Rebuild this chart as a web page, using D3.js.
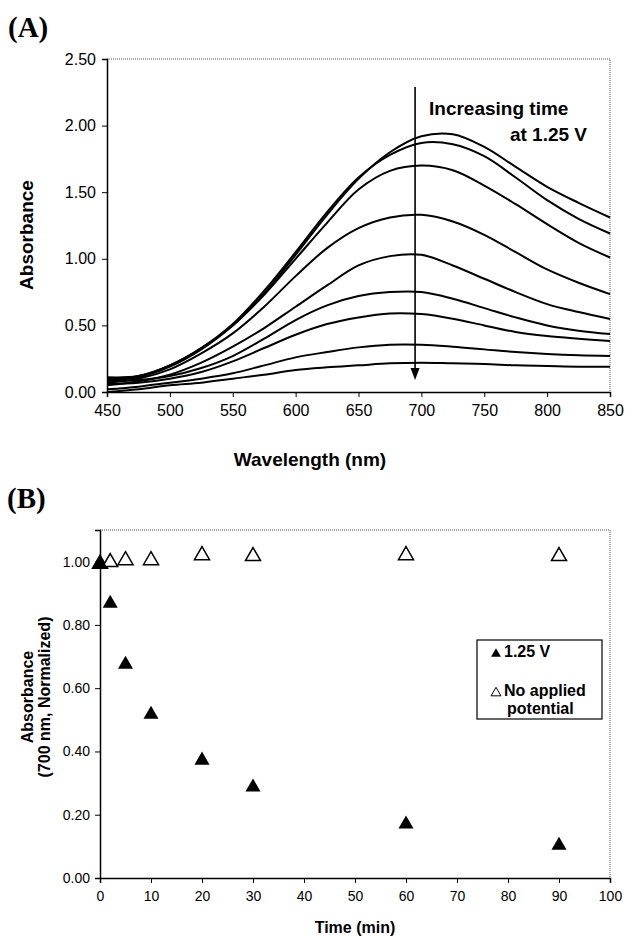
<!DOCTYPE html>
<html>
<head>
<meta charset="utf-8">
<script src="https://cdn.jsdelivr.net/npm/d3@7"></script>
<style>
  body { margin: 0; background: #fff; }
  svg { display: block; font-family: "Liberation Sans", Arial, sans-serif; }
</style>
</head>
<body>
<svg id="chart" width="625" height="937"></svg>
<script>
// panel A: spectra (absorbance vs wavelength), oldest first
var wavelengths = [450, 475, 500, 525, 550, 575, 600, 625, 650, 675, 700, 725, 750, 775, 800, 825, 850];
var spectrum1 = [0.10, 0.12, 0.20, 0.33, 0.50, 0.74, 1.03, 1.33, 1.60, 1.80, 1.92, 1.935, 1.84, 1.69, 1.54, 1.42, 1.31];
var spectrum2 = [0.11, 0.12, 0.20, 0.33, 0.51, 0.76, 1.05, 1.35, 1.61, 1.78, 1.87, 1.86, 1.77, 1.61, 1.44, 1.30, 1.19];
var spectrum3 = [0.09, 0.11, 0.19, 0.32, 0.50, 0.73, 1.00, 1.27, 1.52, 1.66, 1.70, 1.665, 1.55, 1.41, 1.26, 1.12, 1.01];
var spectrum4 = [0.07, 0.10, 0.17, 0.29, 0.44, 0.64, 0.87, 1.08, 1.23, 1.31, 1.33, 1.28, 1.18, 1.05, 0.92, 0.82, 0.735];
var spectrum5 = [0.05, 0.08, 0.13, 0.22, 0.34, 0.48, 0.64, 0.80, 0.95, 1.02, 1.03, 0.95, 0.85, 0.75, 0.66, 0.60, 0.548];
var spectrum6 = [0.08, 0.09, 0.12, 0.18, 0.27, 0.40, 0.54, 0.65, 0.72, 0.75, 0.75, 0.70, 0.63, 0.56, 0.50, 0.46, 0.435];
var spectrum7 = [0.06, 0.07, 0.10, 0.15, 0.23, 0.33, 0.43, 0.51, 0.56, 0.59, 0.585, 0.55, 0.50, 0.45, 0.42, 0.40, 0.383];
var spectrum8 = [0.02, 0.04, 0.07, 0.10, 0.14, 0.20, 0.26, 0.30, 0.335, 0.355, 0.355, 0.34, 0.32, 0.30, 0.285, 0.275, 0.27];
var spectrum9 = [0.00, 0.02, 0.05, 0.07, 0.10, 0.13, 0.165, 0.185, 0.20, 0.215, 0.22, 0.215, 0.21, 0.20, 0.195, 0.19, 0.19];
var spectra = [spectrum1, spectrum2, spectrum3, spectrum4, spectrum5, spectrum6, spectrum7, spectrum8, spectrum9];

// arrow "increasing time" (wavelength, absorbance top -> bottom)
var arrowWl = 695;
var arrowFrom = 2.29;
var arrowTo = 0.09;

// panel B: normalized absorbance at 700 nm vs time
var timeMin = [0, 2, 5, 10, 20, 30, 60, 90];
var abs125V = [1.00, 0.875, 0.682, 0.524, 0.379, 0.294, 0.177, 0.11];
var absNoPotential = [1.00, 1.005, 1.011, 1.011, 1.027, 1.024, 1.027, 1.024];

var svg = d3.select("#chart");

// ---------- panel A ----------
var xA = d3.scaleLinear().domain([450, 850]).range([107, 610]);
var yA = d3.scaleLinear().domain([0, 2.5]).range([392, 59]);

svg.append("text").attr("x", 8).attr("y", 37)
  .style("font-family", "'Liberation Serif', 'Times New Roman', serif")
  .style("font-weight", "bold").style("font-size", "29px").text("(A)");

// dotted plot border (top + right)
svg.append("path")
  .attr("d", "M" + xA(450) + "," + yA(2.5) + "H" + xA(850) + "V" + yA(0))
  .attr("fill", "none").attr("stroke", "#555").attr("stroke-width", 1)
  .attr("stroke-dasharray", "1,1");

var xAxisA = d3.axisBottom(xA).tickValues(d3.range(450, 851, 50)).tickSize(5).tickPadding(8);
var yAxisA = d3.axisLeft(yA).tickValues(d3.range(0, 2.51, 0.5)).tickFormat(d3.format(".2f")).tickSize(5).tickPadding(6);

svg.append("g").attr("transform", "translate(0," + yA(0) + ")").call(xAxisA)
  .call(function (g) {
    g.select(".domain").attr("stroke-width", 1.5);
    g.selectAll("text").style("font-size", "16px").attr("fill", "#000");
  });
svg.append("g").attr("transform", "translate(" + xA(450) + ",0)").call(yAxisA)
  .call(function (g) {
    g.select(".domain").attr("stroke-width", 1.5);
    g.selectAll("text").style("font-size", "16px").attr("fill", "#000");
  });

var lineA = d3.line()
  .x(function (d, i) { return xA(wavelengths[i]); })
  .y(function (d) { return yA(d); })
  .curve(d3.curveCatmullRom.alpha(0.5));

svg.append("g").selectAll("path").data(spectra).enter().append("path")
  .attr("d", lineA)
  .attr("fill", "none").attr("stroke", "#000").attr("stroke-width", 2);

// arrow
svg.append("line")
  .attr("x1", xA(arrowWl)).attr("x2", xA(arrowWl))
  .attr("y1", yA(arrowFrom)).attr("y2", yA(arrowTo) - 10)
  .attr("stroke", "#000").attr("stroke-width", 1.6);
svg.append("path")
  .attr("d", "M" + (xA(arrowWl) - 4.5) + "," + (yA(arrowTo) - 12) +
    "L" + (xA(arrowWl) + 4.5) + "," + (yA(arrowTo) - 12) +
    "L" + xA(arrowWl) + "," + yA(arrowTo) + "Z")
  .attr("fill", "#000");

svg.append("text").attr("x", 429).attr("y", 115)
  .style("font-weight", "bold").style("font-size", "19px").text("Increasing time");
svg.append("text").attr("x", 587).attr("y", 141).attr("text-anchor", "end")
  .style("font-weight", "bold").style("font-size", "19px").text("at 1.25 V");

svg.append("text").attr("x", 310).attr("y", 466).attr("text-anchor", "middle")
  .style("font-weight", "bold").style("font-size", "19px").text("Wavelength (nm)");
svg.append("text").attr("transform", "translate(33,235) rotate(-90)").attr("text-anchor", "middle")
  .style("font-weight", "bold").style("font-size", "19px").text("Absorbance");

// ---------- panel B ----------
var xB = d3.scaleLinear().domain([0, 100]).range([100, 610]);
var yB = d3.scaleLinear().domain([0, 1.1]).range([878, 530]);

svg.append("text").attr("x", 7).attr("y", 508)
  .style("font-family", "'Liberation Serif', 'Times New Roman', serif")
  .style("font-weight", "bold").style("font-size", "29px").text("(B)");

svg.append("path")
  .attr("d", "M" + xB(0) + "," + yB(1.1) + "H" + xB(100) + "V" + yB(0))
  .attr("fill", "none").attr("stroke", "#555").attr("stroke-width", 1)
  .attr("stroke-dasharray", "1,1");

var xAxisB = d3.axisBottom(xB).tickValues(d3.range(0, 101, 10)).tickSize(5).tickPadding(8);
var yAxisB = d3.axisLeft(yB).tickValues([0, 0.2, 0.4, 0.6, 0.8, 1.0]).tickFormat(d3.format(".2f")).tickSize(5).tickPadding(5);

svg.append("g").attr("transform", "translate(0," + yB(0) + ")").call(xAxisB)
  .call(function (g) {
    g.select(".domain").attr("stroke-width", 1.5);
    g.selectAll("text").style("font-size", "14px").attr("fill", "#000");
  });
svg.append("g").attr("transform", "translate(" + xB(0) + ",0)").call(yAxisB)
  .call(function (g) {
    g.select(".domain").attr("stroke-width", 1.5);
    g.selectAll("text").style("font-size", "14px").attr("fill", "#000");
  });

var tri = d3.symbol().type(d3.symbolTriangle).size(98);
var triSmall = d3.symbol().type(d3.symbolTriangle).size(42);

// open triangles first (the one at t=0 hides under the filled marker)
svg.append("g").selectAll("path").data(timeMin).enter().append("path")
  .attr("d", tri)
  .attr("transform", function (d, i) { return "translate(" + xB(d) + "," + (yB(absNoPotential[i]) + 2.2) + ")"; })
  .attr("fill", "#fff").attr("stroke", "#000").attr("stroke-width", 1.5);

svg.append("g").selectAll("path").data(timeMin).enter().append("path")
  .attr("d", tri)
  .attr("transform", function (d, i) { return "translate(" + xB(d) + "," + (yB(abs125V[i]) + 2.2) + ")"; })
  .attr("fill", "#000");

// legend
var leg = svg.append("g");
leg.append("rect").attr("x", 477).attr("y", 640).attr("width", 125).attr("height", 79)
  .attr("fill", "#fff").attr("stroke", "#000").attr("stroke-width", 1.2);
leg.append("path").attr("d", triSmall).attr("transform", "translate(496,654)").attr("fill", "#000");
leg.append("text").attr("x", 504).attr("y", 657).style("font-weight", "bold").style("font-size", "16px").text("1.25 V");
leg.append("path").attr("d", triSmall).attr("transform", "translate(496,693)")
  .attr("fill", "#fff").attr("stroke", "#000").attr("stroke-width", 1);
leg.append("text").attr("x", 504).attr("y", 696).style("font-weight", "bold").style("font-size", "16px").text("No applied");
leg.append("text").attr("x", 507).attr("y", 714).style("font-weight", "bold").style("font-size", "16px").text("potential");

svg.append("text").attr("x", 355).attr("y", 933).attr("text-anchor", "middle")
  .style("font-weight", "bold").style("font-size", "16px").text("Time (min)");
svg.append("text").attr("transform", "translate(33,697) rotate(-90)").attr("text-anchor", "middle")
  .style("font-weight", "bold").style("font-size", "16px").text("Absorbance");
svg.append("text").attr("transform", "translate(50,697) rotate(-90)").attr("text-anchor", "middle")
  .style("font-weight", "bold").style("font-size", "16px").text("(700 nm, Normalized)");
</script>
</body>
</html>
